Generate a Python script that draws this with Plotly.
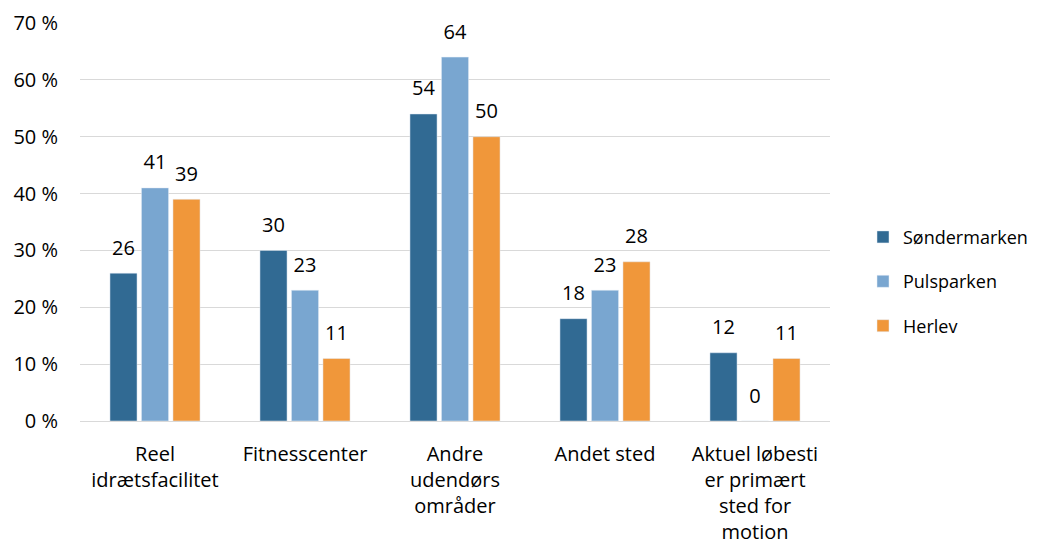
import plotly.graph_objects as go

categories = ["Reel<br>idrætsfacilitet", "Fitnesscenter", "Andre<br>udendørs<br>områder",
              "Andet sted", "Aktuel løbesti<br>er primært<br>sted for<br>motion"]
series_names = ["Søndermarken", "Pulsparken", "Herlev"]
soendermarken = [26, 30, 54, 18, 12]
pulsparken = [41, 23, 64, 23, 0]
herlev = [39, 11, 50, 28, 11]
colors = ["#316A93", "#79A6D0", "#F0973A"]

y_ticks = [0, 10, 20, 30, 40, 50, 60, 70]
y_tick_labels = ["0 %", "10 %", "20 %", "30 %", "40 %", "50 %", "60 %", "70 %"]

fig = go.Figure()
for i, (name, vals) in enumerate(zip(series_names, [soendermarken, pulsparken, herlev])):
    fig.add_trace(go.Bar(x=categories, y=vals, name=name, marker_color=colors[i],
                         offsetgroup=str(i), legendgroup=name))
for i, (name, vals) in enumerate(zip(series_names, [soendermarken, pulsparken, herlev])):
    # value labels above bars
    fig.add_trace(go.Scatter(x=categories, y=vals, mode="markers+text", text=[str(v) for v in vals],
                             textposition="top center", offsetgroup=str(i),
                             marker=dict(size=20, opacity=0), showlegend=False, hoverinfo="skip",
                             textfont=dict(size=20, color="#000000")))

# page has an 8px body margin, so the figure is shrunk and shifted by that
fig.update_layout(
    width=1031, height=538,
    barmode="group", scattermode="group", bargap=0.37, bargroupgap=0.14,
    plot_bgcolor="white", paper_bgcolor="white",
    margin=dict(l=72, r=209, t=15, b=125, autoexpand=False),
    font=dict(family="Open Sans, sans-serif", size=20, color="#000000"),
    legend=dict(x=1.044, y=0.35, xanchor="left", yanchor="middle", tracegroupgap=18,
                font=dict(size=18)),
    xaxis=dict(showline=False, ticks="", tickfont=dict(size=20), automargin=False,
               ticklabelstandoff=19),
    yaxis=dict(range=[0, 70], tickvals=y_ticks, ticktext=y_tick_labels, showgrid=True,
               gridcolor="#D9D9D9", gridwidth=1, zeroline=True, zerolinecolor="#D9D9D9",
               zerolinewidth=1, tickfont=dict(size=20), ticklabelstandoff=21,
               automargin=False),
)

fig.write_html("out.html")
